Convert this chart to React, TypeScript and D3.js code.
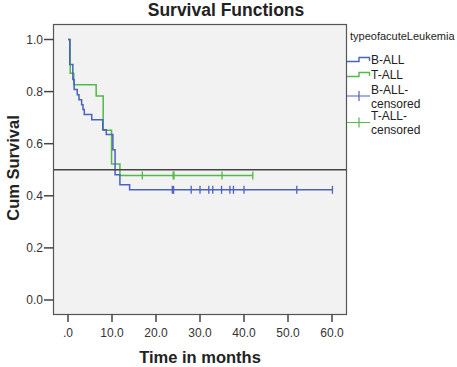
import React, { useEffect, useRef } from 'react';
import * as d3 from 'd3';

// B-ALL event times (months) and cumulative survival after each drop
const bTimes = [0, 0.4, 1.1, 1.4, 2.1, 2.5, 3.1, 3.4, 3.7, 5.4, 7.9, 8.7, 10.2, 10.7, 11.8, 14.0, 60.1];
const bSurv = [1.0, 0.904, 0.846, 0.808, 0.788, 0.769, 0.75, 0.731, 0.712, 0.692, 0.654, 0.635, 0.577, 0.481, 0.442, 0.423, 0.423];
const bCensored = [23.7, 24.0, 28.0, 30.0, 32.0, 32.9, 34.9, 36.8, 37.6, 40.0, 52.0, 60.1];

// T-ALL
const tTimes = [0, 0.5, 1.3, 6.4, 8.0, 9.9, 11.8, 42.0];
const tSurv = [1.0, 0.87, 0.826, 0.783, 0.652, 0.522, 0.478, 0.478];
const tCensored = [16.9, 23.9, 24.1, 35.0, 42.0];

const xTicks = [0, 10, 20, 30, 40, 50, 60];
const yTicks = [0, 0.2, 0.4, 0.6, 0.8, 1.0];
const refLine = 0.5;

const BLUE = '#4a62c2';
const GREEN = '#52b94a';
const FONT = 'Arial, "Liberation Sans", sans-serif';

const App = () => {
  const ref = useRef<HTMLDivElement>(null);

  useEffect(() => {
    if (!ref.current) return;
    d3.select(ref.current).selectAll('*').remove();

    const svg = d3
      .select(ref.current)
      .append('svg')
      .attr('width', 457)
      .attr('height', 367)
      .style('display', 'block');

    svg.append('rect').attr('width', 457).attr('height', 367).attr('fill', '#ffffff');

    const x = d3.scaleLinear().domain([0, 60]).range([68, 332]);
    const y = d3.scaleLinear().domain([0, 1]).range([300, 39.5]);

    const frame = { left: 53.5, top: 24.5, right: 346.5, bottom: 314.5 };

    svg
      .append('rect')
      .attr('x', frame.left)
      .attr('y', frame.top)
      .attr('width', frame.right - frame.left)
      .attr('height', frame.bottom - frame.top)
      .attr('fill', '#f2f2f2')
      .attr('stroke', '#555')
      .attr('stroke-width', 1.2);

    svg
      .append('text')
      .attr('x', 226)
      .attr('y', 16)
      .attr('text-anchor', 'middle')
      .style('font-family', FONT)
      .style('font-weight', 'bold')
      .style('font-size', '17.5px')
      .attr('fill', '#222')
      .text('Survival Functions');

    // y axis
    const yAxis = svg.append('g');
    yTicks.forEach(v => {
      yAxis
        .append('line')
        .attr('x1', 44)
        .attr('x2', frame.left)
        .attr('y1', y(v))
        .attr('y2', y(v))
        .attr('stroke', '#444')
        .attr('stroke-width', 1.5);
      yAxis
        .append('text')
        .attr('x', 43)
        .attr('y', y(v))
        .attr('dy', '0.35em')
        .attr('text-anchor', 'end')
        .style('font-family', FONT)
        .style('font-size', '12px')
        .attr('fill', '#333')
        .text(v.toFixed(1));
    });

    // x axis
    const xAxis = svg.append('g');
    xTicks.forEach(v => {
      xAxis
        .append('line')
        .attr('x1', x(v))
        .attr('x2', x(v))
        .attr('y1', frame.bottom)
        .attr('y2', 322)
        .attr('stroke', '#444')
        .attr('stroke-width', 1.5);
      xAxis
        .append('text')
        .attr('x', x(v))
        .attr('y', 333)
        .attr('dy', '0.35em')
        .attr('text-anchor', 'middle')
        .style('font-family', FONT)
        .style('font-size', '12px')
        .attr('fill', '#333')
        .text(v === 0 ? '.0' : v.toFixed(1));
    });

    svg
      .append('text')
      .attr('x', 200)
      .attr('y', 357)
      .attr('dy', '0.35em')
      .attr('text-anchor', 'middle')
      .style('font-family', FONT)
      .style('font-weight', 'bold')
      .style('font-size', '16.5px')
      .attr('fill', '#222')
      .text('Time in months');

    svg
      .append('text')
      .attr('transform', 'translate(13,168) rotate(-90)')
      .attr('dy', '0.35em')
      .attr('text-anchor', 'middle')
      .style('font-family', FONT)
      .style('font-weight', 'bold')
      .style('font-size', '16.5px')
      .attr('fill', '#222')
      .text('Cum Survival');

    const drawSeries = (times: number[], surv: number[], cens: number[], color: string) => {
      const pts = times.map((t, i) => [t, surv[i]] as [number, number]);
      svg
        .append('path')
        .attr(
          'd',
          d3
            .line<[number, number]>()
            .x(d => x(d[0]))
            .y(d => y(d[1]))
            .curve(d3.curveStepAfter)(pts)
        )
        .attr('fill', 'none')
        .attr('stroke', color)
        .attr('stroke-width', 1.5);

      const survAt = (t: number) => {
        let s = surv[0];
        times.forEach((tt, i) => {
          if (tt <= t) s = surv[i];
        });
        return s;
      };
      svg
        .append('g')
        .selectAll('line')
        .data(cens)
        .join('line')
        .attr('x1', d => x(d))
        .attr('x2', d => x(d))
        .attr('y1', d => y(survAt(d)) - 4)
        .attr('y2', d => y(survAt(d)) + 4)
        .attr('stroke', color)
        .attr('stroke-width', 1.3);
    };

    drawSeries(tTimes, tSurv, tCensored, GREEN);
    drawSeries(bTimes, bSurv, bCensored, BLUE);

    svg
      .append('line')
      .attr('x1', frame.left)
      .attr('x2', frame.right)
      .attr('y1', y(refLine))
      .attr('y2', y(refLine))
      .attr('stroke', '#444')
      .attr('stroke-width', 1.3);

    // legend
    const lg = svg.append('g');
    lg.append('text')
      .attr('x', 350)
      .attr('y', 40)
      .style('font-family', FONT)
      .style('font-size', '11px')
      .attr('fill', '#222')
      .text('typeofacuteLeukemia');

    const stepIcon = (cy: number, color: string) => {
      lg.append('path')
        .attr('d', `M347,${cy + 2}H359V${cy - 2}H369.5V${cy + 1.5}`)
        .attr('fill', 'none')
        .attr('stroke', color)
        .attr('stroke-width', 1.4);
    };
    const plusIcon = (cy: number, color: string) => {
      lg.append('path')
        .attr('d', `M347,${cy}H370M359,${cy - 5}V${cy + 5}`)
        .attr('fill', 'none')
        .attr('stroke', color)
        .attr('stroke-width', 1.2);
    };
    const label = (cy: number, txt: string) => {
      lg.append('text')
        .attr('x', 371)
        .attr('y', cy)
        .attr('dy', '0.35em')
        .style('font-family', FONT)
        .style('font-size', '12px')
        .attr('fill', '#222')
        .text(txt);
    };

    stepIcon(59.5, BLUE);
    label(60, 'B-ALL');
    stepIcon(74.5, GREEN);
    label(75, 'T-ALL');
    plusIcon(96, BLUE);
    label(89.5, 'B-ALL-');
    label(103.5, 'censored');
    plusIcon(122.5, GREEN);
    label(116, 'T-ALL-');
    label(130, 'censored');
  }, []);

  return <div ref={ref} style={{ position: 'absolute', left: 0, top: 0 }} />;
};

export default App;
